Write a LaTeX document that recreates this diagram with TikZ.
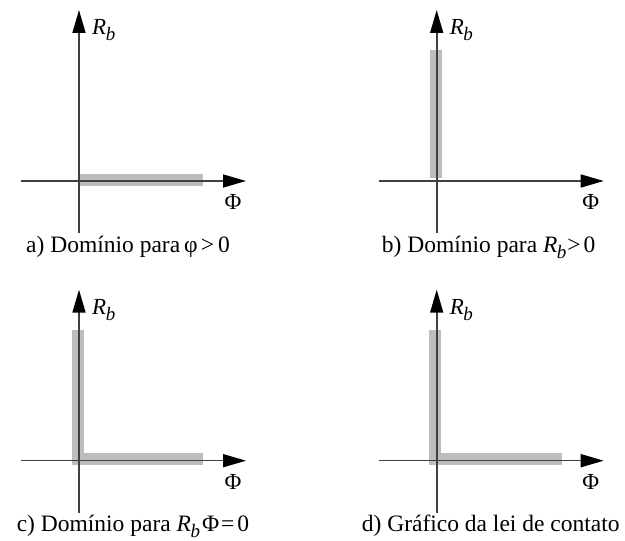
\documentclass[tikz,border=0pt]{standalone}
\usepackage{fontspec}
\setmainfont{Liberation Serif}
\usetikzlibrary{arrows.meta}

\newcommand{\Rb}{\textit{R}\kern-0.5pt\raisebox{-6pt}{\fontsize{19}{19}\selectfont\textit{b}}}

\begin{document}
\begin{tikzpicture}[x=1pt, y=1pt,
    axis/.style = {line width=1.6pt, draw=black!75,
                   -{Triangle[length=23pt, width=13pt, color=black]}},
    band/.style = {line width=12pt, draw=black!26, line join=miter, line cap=butt},
    lbl/.style = {inner sep=0pt, font=\fontsize{23}{27}\selectfont},
    caption/.style = {inner sep=0pt, anchor=base, font=\fontsize{23.5}{27}\selectfont}]
    \useasboundingbox (0,0) rectangle (625,541);

    %mark origins of the four panels
        \coordinate[] (Oa) at (79,360);
        \coordinate[] (Ob) at (436.7,360);
        \coordinate[] (Oc) at (79,80.3);
        \coordinate[] (Od) at (436.7,80.3);

    %draw grey domains
        \draw[band] ([yshift=0.5pt]Oa) -- ([xshift=124pt, yshift=0.5pt]Oa);
        \draw[band] ([xshift=-1pt, yshift=3pt]Ob) -- ([xshift=-1pt, yshift=131pt]Ob);
        \draw[band] ([xshift=-1.5pt, yshift=131pt]Oc) -- ([xshift=-1.5pt, yshift=2pt]Oc) -- ([xshift=124pt, yshift=2pt]Oc);
        \draw[band] ([xshift=-1.5pt, yshift=131pt]Od) -- ([xshift=-1.5pt, yshift=2pt]Od) -- ([xshift=125pt, yshift=2pt]Od);

    %draw axes and their labels
    \foreach \p in {a,b,c,d} {
        \coordinate[] (W\p) at ([xshift=-58pt]O\p);
        \coordinate[] (E\p) at ([xshift=167pt]O\p);
        \coordinate[] (S\p) at ([yshift=-52pt]O\p);
        \coordinate[] (N\p) at ([yshift=171pt]O\p);
        \draw[axis] (W\p) -- (E\p);
        \draw[axis] (S\p) -- (N\p);
        \node[lbl, anchor=base west] (R\p) at ([xshift=13pt, yshift=146pt]O\p) {\Rb};
        \node[lbl, anchor=base] (F\p) at ([xshift=154pt, yshift=-29pt]O\p) {Φ};
    }

    %captions
        \node[caption] (capa) at ([xshift=49pt, yshift=-72pt]Oa) {a) Domínio para\kern4pt φ\kern3pt>\kern4pt0};
        \node[caption] (capb) at ([xshift=52pt, yshift=-72pt]Ob) {b) Domínio para \Rb\kern1pt>\kern3pt0};
        \node[caption] (capc) at ([xshift=54pt, yshift=-71pt]Oc) {c) Domínio para \Rb\kern2ptΦ\kern2pt=\kern3pt0};
        \node[caption] (capd) at ([xshift=54pt, yshift=-71pt]Od) {d) Gráfico da lei de contato};
\end{tikzpicture}
\end{document}
